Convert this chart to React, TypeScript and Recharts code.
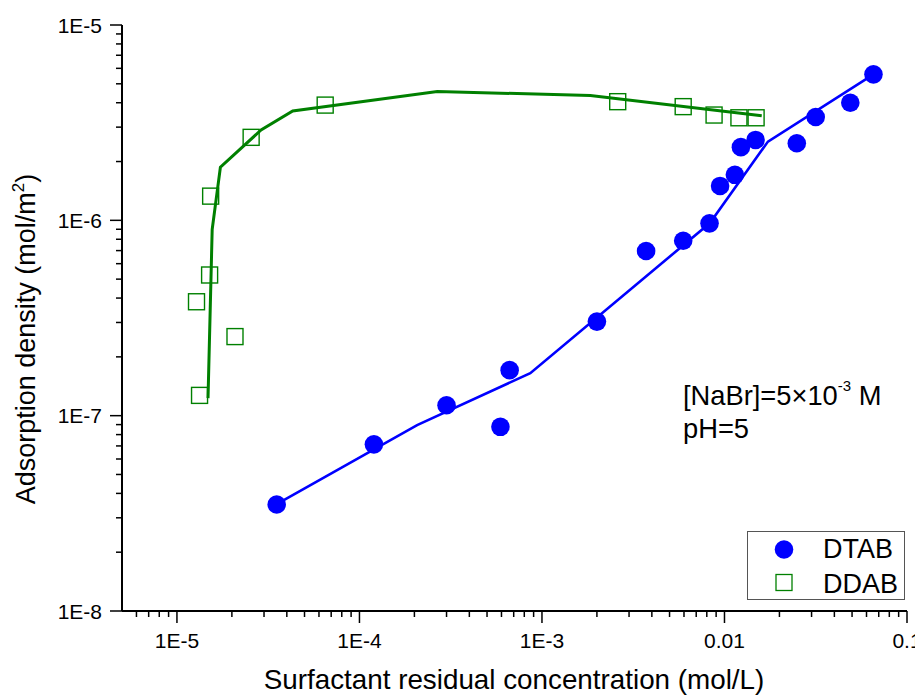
import React from 'react';
import { ComposedChart, Scatter, XAxis, YAxis, Legend } from 'recharts';

const FONT = '"Liberation Sans", Arial, Helvetica, sans-serif';
const W = 915;
const H = 687;
const BLUE = '#0000ff';
const GREEN = '#008000';

// DTAB measured points
const dtabX = [3.52e-5, 1.2e-4, 3.0e-4, 5.92e-4, 6.65e-4, 2.0e-3, 3.72e-3, 5.94e-3, 8.28e-3, 9.46e-3, 1.14e-2, 1.23e-2, 1.48e-2, 2.49e-2, 3.16e-2, 4.89e-2, 6.55e-2];
const dtabY = [3.51e-8, 7.13e-8, 1.13e-7, 8.77e-8, 1.71e-7, 3.03e-7, 6.97e-7, 7.86e-7, 9.65e-7, 1.5e-6, 1.71e-6, 2.37e-6, 2.58e-6, 2.48e-6, 3.38e-6, 4.0e-6, 5.59e-6];

// DDAB measured points
const ddabX = [1.28e-5, 1.33e-5, 1.51e-5, 1.53e-5, 2.08e-5, 2.55e-5, 6.49e-5, 2.6e-3, 5.94e-3, 8.77e-3, 1.2e-2, 1.49e-2];
const ddabY = [3.83e-7, 1.27e-7, 5.25e-7, 1.33e-6, 2.54e-7, 2.66e-6, 3.89e-6, 4.05e-6, 3.82e-6, 3.46e-6, 3.35e-6, 3.35e-6];

// fitted curves
const dtabFitX = [3.52e-5, 2.07e-4, 8.63e-4, 8.32e-3, 1.73e-2, 6.55e-2];
const dtabFitY = [3.52e-8, 8.95e-8, 1.65e-7, 9.69e-7, 2.53e-6, 5.59e-6];
const ddabFitX = [1.48e-5, 1.56e-5, 1.73e-5, 2.89e-5, 4.31e-5, 2.67e-4, 1.84e-3, 1.6e-2];
const ddabFitY = [1.23e-7, 9.0e-7, 1.87e-6, 2.9e-6, 3.63e-6, 4.57e-6, 4.35e-6, 3.43e-6];

// axis ticks
const xMajorTicks = [1e-5, 1e-4, 1e-3, 1e-2, 1e-1];
const xMajorLabels = ['1E-5', '1E-4', '1E-3', '0.01', '0.1'];
const yMajorTicks = [1e-8, 1e-7, 1e-6, 1e-5];
const yMajorLabels = ['1E-8', '1E-7', '1E-6', '1E-5'];
const mantissas = [2, 3, 4, 5, 6, 7, 8, 9];

const xDomain: [number, number] = [5e-6, 0.1];
const yDomain: [number, number] = [1e-8, 1e-5];

const toPts = (xs: number[], ys: number[]) => xs.map((x, i) => ({ x, y: ys[i] }));
const dtabPts = toPts(dtabX, dtabY);
const ddabPts = toPts(ddabX, ddabY);
const dtabFit = toPts(dtabFitX, dtabFitY);
const ddabFit = toPts(ddabFitX, ddabFitY);

const buildTicks = (majors: number[], lo: number, hi: number) => {
  const out: number[] = [];
  const e0 = Math.floor(Math.log10(lo));
  const e1 = Math.ceil(Math.log10(hi));
  for (let e = e0; e <= e1; e++) {
    const base = Math.pow(10, e);
    [1, ...mantissas].forEach((m) => {
      const v = m * base;
      if (v > lo * 1.0001 && v < hi * 0.9999) out.push(v);
    });
  }
  majors.forEach((m) => {
    if (!out.some((v) => Math.abs(Math.log10(v) - Math.log10(m)) < 1e-6)) out.push(m);
  });
  return out.sort((a, b) => a - b);
};
const xTicks = buildTicks(xMajorTicks, xDomain[0], xDomain[1]);
const yTicks = buildTicks(yMajorTicks, yDomain[0], yDomain[1]);

const majorIndex = (v: number, majors: number[]) =>
  majors.findIndex((m) => Math.abs(Math.log10(v) - Math.log10(m)) < 1e-6);

const XTickBottom = (p: any) => {
  const idx = majorIndex(p.payload.value, xMajorTicks);
  const major = idx >= 0;
  return (
    <g>
      <line x1={p.x} x2={p.x} y1={p.y} y2={p.y + (major ? 12 : 6)} stroke="#000" strokeWidth={1.5} />
      {major && (
        <text x={p.x} y={p.y + 37} textAnchor="middle" fontFamily={FONT} fontSize={21} fill="#000">
          {xMajorLabels[idx]}
        </text>
      )}
    </g>
  );
};

const XTickTop = (p: any) => {
  const major = majorIndex(p.payload.value, xMajorTicks) >= 0;
  return <line x1={p.x} x2={p.x} y1={p.y} y2={p.y + (major ? 6 : 3)} stroke="#000" strokeWidth={1.2} />;
};

const YTickLeft = (p: any) => {
  const idx = majorIndex(p.payload.value, yMajorTicks);
  const major = idx >= 0;
  return (
    <g>
      <line x1={p.x} x2={p.x - (major ? 12 : 6)} y1={p.y} y2={p.y} stroke="#000" strokeWidth={1.5} />
      {major && (
        <text x={p.x - 20} y={p.y + 7.5} textAnchor="end" fontFamily={FONT} fontSize={21} fill="#000">
          {yMajorLabels[idx]}
        </text>
      )}
    </g>
  );
};

const YTickRight = (p: any) => {
  const major = majorIndex(p.payload.value, yMajorTicks) >= 0;
  return <line x1={p.x} x2={p.x + (major ? 6 : 4)} y1={p.y} y2={p.y} stroke="#000" strokeWidth={1.2} />;
};

const XTitle = () => (
  <text x={506} y={681} textAnchor="middle" fontFamily={FONT} fontSize={27.8} fill="#000">
    Surfactant residual concentration (mol/L)
  </text>
);

const YTitle = () => (
  <text transform="translate(27,331) rotate(-90)" textAnchor="middle" fontFamily={FONT} fontSize={27} fill="#000">
    Adsorption density (mol/m
    <tspan fontSize={17} dy={-11}>2</tspan>
    <tspan dy={11}>)</tspan>
  </text>
);

const circleShape = (p: any) => <circle cx={p.cx} cy={p.cy} r={9.3} fill={BLUE} />;
const squareShape = (p: any) => (
  <rect x={p.cx - 8} y={p.cy - 8} width={16} height={16} fill="none" stroke={GREEN} strokeWidth={1.4} />
);
const noShape = () => <g />;

const LegendBox = () => (
  <svg width={158} height={69} style={{ display: 'block' }}>
    <rect x={0.5} y={0.5} width={157} height={68} fill="#fff" stroke="#555" strokeWidth={1} />
    <circle cx={37} cy={18.5} r={9.3} fill={BLUE} />
    <text x={76} y={27} fontFamily={FONT} fontSize={27} fill="#000">DTAB</text>
    <rect x={29} y={43.5} width={16} height={16} fill="none" stroke={GREEN} strokeWidth={1.3} />
    <text x={76} y={61.5} fontFamily={FONT} fontSize={27} fill="#000">DDAB</text>
  </svg>
);

export default function App() {
  return (
    <div style={{ position: 'relative', width: W, height: H }}>
      <ComposedChart width={W} height={H} margin={{ top: 17, right: 16, bottom: 0, left: 0 }}>
        <XAxis
          xAxisId={0}
          dataKey="x"
          type="number"
          scale="log"
          domain={xDomain}
          allowDataOverflow
          ticks={xTicks}
          interval={0}
          tick={(p: any) => <XTickBottom {...p} />}
          tickLine={false}
          tickSize={0}
          tickMargin={0}
          height={84}
          axisLine={{ stroke: '#000', strokeWidth: 2 }}
          label={{ content: () => <XTitle /> }}
        />
        <XAxis
          xAxisId="top"
          orientation="top"
          dataKey="x"
          type="number"
          scale="log"
          domain={xDomain}
          allowDataOverflow
          ticks={xTicks}
          interval={0}
          tick={(p: any) => <XTickTop {...p} />}
          tickLine={false}
          tickSize={0}
          tickMargin={0}
          height={0}
          axisLine={{ stroke: '#000', strokeWidth: 2 }}
        />
        <YAxis
          yAxisId={0}
          dataKey="y"
          type="number"
          scale="log"
          domain={yDomain}
          allowDataOverflow
          ticks={yTicks}
          interval={0}
          tick={(p: any) => <YTickLeft {...p} />}
          tickLine={false}
          tickSize={0}
          tickMargin={0}
          width={114}
          axisLine={{ stroke: '#000', strokeWidth: 2 }}
          label={{ content: () => <YTitle /> }}
        />
        <YAxis
          yAxisId="right"
          orientation="right"
          dataKey="y"
          type="number"
          scale="log"
          domain={yDomain}
          allowDataOverflow
          ticks={yTicks}
          interval={0}
          tick={(p: any) => <YTickRight {...p} />}
          tickLine={false}
          tickSize={0}
          tickMargin={0}
          width={0}
          axisLine={{ stroke: '#000', strokeWidth: 2 }}
        />
        <Scatter
          name="DDAB fit"
          data={ddabFit}
          xAxisId={0}
          yAxisId={0}
          line={{ stroke: GREEN, strokeWidth: 3 }}
          lineType="joint"
          shape={noShape}
          legendType="none"
          isAnimationActive={false}
        />
        <Scatter
          name="DTAB fit"
          data={dtabFit}
          xAxisId={0}
          yAxisId={0}
          line={{ stroke: BLUE, strokeWidth: 2.6 }}
          lineType="joint"
          shape={noShape}
          legendType="none"
          isAnimationActive={false}
        />
        <Scatter name="DTAB" data={dtabPts} xAxisId={0} yAxisId={0} shape={circleShape} isAnimationActive={false} />
        <Scatter name="DDAB" data={ddabPts} xAxisId={0} yAxisId={0} shape={squareShape} isAnimationActive={false} />
        <Legend
          layout="horizontal"
          verticalAlign="middle"
          align="center"
          content={() => <LegendBox />}
          wrapperStyle={{ position: 'absolute', left: 738.5, top: 522.5, width: 158, height: 69, margin: 0, padding: 0 }}
        />
      </ComposedChart>
      <svg
        width={W}
        height={H}
        style={{ position: 'absolute', left: 0, top: 0, pointerEvents: 'none' }}
      >
        <text x={675} y={397} fontFamily={FONT} fontSize={27.3} fill="#000">
          [NaBr]=5×10
          <tspan fontSize={15} dy={-14}>-3</tspan>
          <tspan dy={14}> M</tspan>
        </text>
        <text x={675} y={430} fontFamily={FONT} fontSize={27.3} fill="#000">
          pH=5
        </text>
      </svg>
    </div>
  );
}
